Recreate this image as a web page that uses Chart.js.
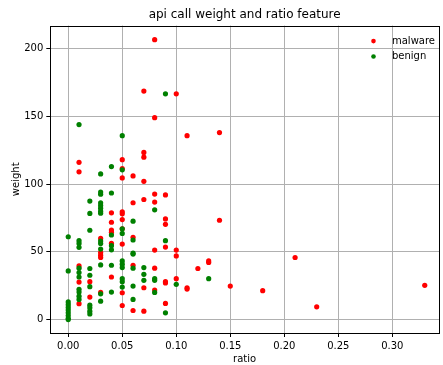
<!DOCTYPE html>
<html>
<head>
<meta charset="UTF-8">
<title>api call weight and ratio feature</title>
<script src="https://cdn.jsdelivr.net/npm/chart.js"></script>
<style>
  body { margin: 0; background: #fff; }
  #wrap { width: 443px; height: 365px; }
</style>
</head>
<body>
<div id="wrap"><canvas id="chart"></canvas></div>
<script>
// [ratio, weight] pairs
const malwareRatio  = [0.01,0.01,0.01,0.01,0.01, 0.02,0.02, 0.03,0.03,0.03,0.03,0.03,
  0.04,0.04,0.04,0.04,0.04,0.04, 0.05,0.05,0.05,0.05,0.05,0.05,0.05,0.05,0.05,0.05,
  0.06,0.06,0.06,0.06,0.06, 0.07,0.07,0.07,0.07,0.07,0.07,0.07,
  0.08,0.08,0.08,0.08,0.08,0.08,0.08, 0.09,0.09,0.09,0.09,0.09,0.09,0.09,
  0.10,0.10,0.10,0.10, 0.11,0.11,0.11, 0.12, 0.13,0.13, 0.14,0.14, 0.15, 0.18, 0.21, 0.23, 0.33];
const malwareWeight = [116,109,39.6,27.7,11.7, 28,16.6, 59.9,49.5,47.5,45.8,20,
  78.8,71.8,66.1,64.4,56.2,31.4, 118,111.4,104.5,79.5,78,73.8,67,55.7,19.8,10.4,
  106,86.2,60.7,40.1,6.7, 168.6,123.3,119.8,102,88.6,23.5,6.2,
  206.5,149,92.6,86.7,51.3,37.9,21.8, 92,74.3,70.3,53.5,28,27,11.9,
  166.6,51.3,47,30.2, 135.7,23.5,22.5, 37.7, 43.3,42.1, 138,73.3, 24.7, 21.3, 45.8, 9.4, 25.3];

const benignRatio  = [0,0,0,0,0,0,0,0,0,0,
  0.01,0.01,0.01,0.01,0.01,0.01,0.01,0.01,0.01,0.01,0.01,
  0.02,0.02,0.02,0.02,0.02,0.02,0.02,0.02,0.02,0.02,
  0.03,0.03,0.03,0.03,0.03,0.03,0.03,0.03,0.03,0.03,0.03,0.03,0.03,0.03,
  0.04,0.04,0.04,0.04,0.04,0.04,0.04,
  0.05,0.05,0.05,0.05,0.05,0.05,0.05,0.05,0.05,0.05,
  0.06,0.06,0.06,0.06,0.06,0.06,0.06, 0.07,0.07,0.07, 0.08,0.08,0.08,0.08,
  0.09,0.09,0.09, 0.10, 0.13];
const benignWeight = [61.1,35.9,13,11,9,7,5,3,1,0,
  143.9,58.2,56.2,53.3,37.9,34.7,31.4,22.3,20.3,17.3,14.9,
  87.4,78.3,65.9,37.7,32.7,24.3,10.6,8.7,6.2,4.2,
  107.5,94.1,92.5,86.2,84.2,82.2,80,78.5,57.9,56.2,52,40.3,19,13.6,
  112.9,93.4,62.4,54.5,51.5,40.1,20.3,
  135.7,110.5,67,63.6,43.3,40.9,38.4,30.2,28,24,
  72.6,58.7,49,48.3,37.9,24.7,14.9, 38.4,33.4,29, 81,30.2,29,20,
  166.6,58.2,5, 26, 30.2];

const xTicks = [0, 0.05, 0.10, 0.15, 0.20, 0.25, 0.30];
const yTicks = [0, 50, 100, 150, 200];

const toPoints = (xs, ys) => xs.map((x, i) => ({ x: x, y: ys[i] }));

const FONT = 'DejaVu Sans';

// legend inside the plot, top right, like matplotlib
const innerLegend = {
  id: 'innerLegend',
  afterDraw(chart) {
    const ctx = chart.ctx;
    const a = chart.chartArea;
    const items = [['malware', '#ff0000'], ['benign', '#008000']];
    ctx.save();
    ctx.font = '10px "' + FONT + '"';
    ctx.textBaseline = 'middle';
    items.forEach((it, i) => {
      const y = a.top + 15.5 + i * 15.4;
      ctx.fillStyle = it[1];
      ctx.beginPath();
      ctx.arc(a.right - 65.5, y, 2.3, 0, Math.PI * 2);
      ctx.fill();
      ctx.fillStyle = '#000';
      ctx.fillText(it[0], a.right - 47, y);
    });
    ctx.restore();
  }
};

// black frame round the plot
const frame = {
  id: 'frame',
  afterDatasetsDraw(chart) {
    const ctx = chart.ctx;
    const a = chart.chartArea;
    ctx.save();
    ctx.strokeStyle = '#000';
    ctx.lineWidth = 1;
    ctx.strokeRect(Math.round(a.left) + 0.5, Math.round(a.top) + 0.5,
      Math.round(a.right - a.left), Math.round(a.bottom - a.top));
    ctx.restore();
  }
};

new Chart(document.getElementById('chart'), {
  type: 'scatter',
  data: {
    datasets: [
      { label: 'malware', data: toPoints(malwareRatio, malwareWeight),
        backgroundColor: '#ff0000', borderWidth: 0, pointRadius: 2.6, order: 2 },
      { label: 'benign', data: toPoints(benignRatio, benignWeight),
        backgroundColor: '#008000', borderWidth: 0, pointRadius: 2.6, order: 1 }
    ]
  },
  options: {
    responsive: true,
    maintainAspectRatio: false,
    animation: false,
    layout: { padding: { left: 0, right: 2, top: 0, bottom: 0 } },
    plugins: {
      legend: { display: false },
      tooltip: { enabled: false },
      title: {
        display: true,
        text: 'api call weight and ratio feature',
        fullSize: false,
        color: '#000',
        font: { family: FONT, size: 12, weight: 'normal' },
        padding: { top: 8, bottom: 3.2 }
      }
    },
    scales: {
      x: {
        type: 'linear',
        min: -0.0166,
        max: 0.3432,
        afterFit: (s) => { s.height = 32; },
        afterBuildTicks: (s) => { s.ticks = xTicks.map(v => ({ value: v })); },
        grid: { color: '#b0b0b0', tickColor: '#000', tickLength: 4 },
        border: { display: false },
        ticks: {
          color: '#000', padding: 3,
          font: { family: FONT, size: 10 },
          callback: (v) => v.toFixed(2)
        },
        title: {
          display: true, text: 'ratio', color: '#000',
          font: { family: FONT, size: 10 }, padding: { top: 0, bottom: 0 }
        }
      },
      y: {
        type: 'linear',
        min: -9.9,
        max: 216.9,
        afterFit: (s) => { s.width = 50.3; },
        afterBuildTicks: (s) => { s.ticks = yTicks.map(v => ({ value: v })); },
        grid: { color: '#b0b0b0', tickColor: '#000', tickLength: 4 },
        border: { display: false },
        ticks: {
          color: '#000', padding: 3,
          font: { family: FONT, size: 10 },
          callback: (v) => String(v)
        },
        title: {
          display: true, text: 'weight', color: '#000',
          font: { family: FONT, size: 10 }, padding: { top: 10, bottom: 0 }
        }
      }
    }
  },
  plugins: [frame, innerLegend]
});
</script>
</body>
</html>
